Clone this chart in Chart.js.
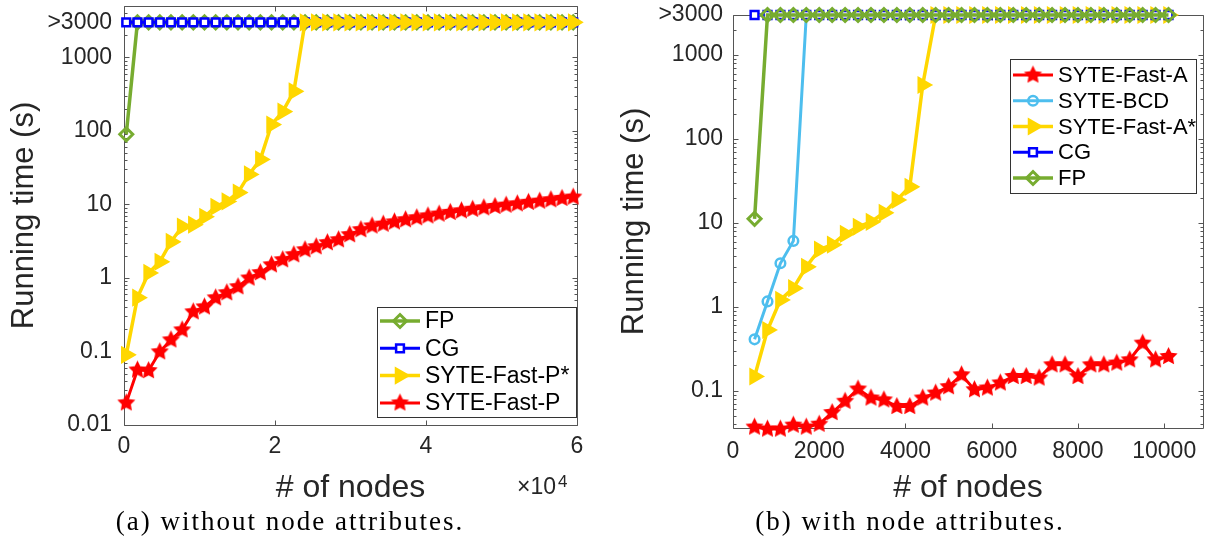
<!DOCTYPE html>
<html>
<head>
<meta charset="utf-8">
<title>Running time vs. number of nodes</title>
<script src="https://cdn.jsdelivr.net/npm/chart.js@4.4.0/dist/chart.umd.min.js"></script>
<style>
  body { margin: 0; background: #fff; width: 1205px; height: 550px; overflow: hidden; position: relative; }
  .panel { position: absolute; top: 0; height: 507px; }
  #panelA { left: 0; width: 600px; }
  #panelB { left: 600px; width: 605px; }
  .caption {
    position: absolute; top: 506px; transform: translateX(-50%);
    font-family: 'Liberation Serif', 'Times New Roman', serif; font-size: 27px;
    letter-spacing: 2px; color: #000; white-space: nowrap;
  }
</style>
</head>
<body>
<div class="panel" id="panelA"><canvas id="chartA"></canvas></div>
<div class="panel" id="panelB"><canvas id="chartB"></canvas></div>
<div class="caption" style="left:290px">(a) without node attributes.</div>
<div class="caption" style="left:910px">(b) with node attributes.</div>

<script>
// ---- (a) graphs without node attributes ----
const nodesA = [300, 1780, 3260, 4740, 6220, 7700, 9180, 10660, 12140, 13620, 15100, 16580, 18060, 19540,
  21020, 22500, 23980, 25460, 26940, 28420, 29900, 31380, 32860, 34340, 35820, 37300, 38780, 40260,
  41740, 43220, 44700, 46180, 47660, 49140, 50620, 52100, 53580, 55060, 56540, 58020, 59500];
// 3000 = did not finish within the time limit (">3000")
const fpA = [90, 3000, 3000, 3000, 3000, 3000, 3000, 3000, 3000, 3000, 3000, 3000, 3000, 3000, 3000, 3000,
  3000, 3000, 3000, 3000, 3000, 3000, 3000, 3000, 3000, 3000, 3000, 3000, 3000, 3000, 3000, 3000, 3000,
  3000, 3000, 3000, 3000, 3000, 3000, 3000, 3000];
const cgA = [3000, 3000, 3000, 3000, 3000, 3000, 3000, 3000, 3000, 3000, 3000, 3000, 3000, 3000, 3000, 3000,
  3000, 3000, 3000, 3000, 3000, 3000, 3000, 3000, 3000, 3000, 3000, 3000, 3000, 3000, 3000, 3000, 3000,
  3000, 3000, 3000, 3000, 3000, 3000, 3000, 3000];
const fastPStarA = [0.09, 0.54, 1.17, 1.66, 3.1, 5.0, 5.3, 6.8, 9.3, 11, 14.5, 25.6, 41, 122, 183, 345,
  3000, 3000, 3000, 3000, 3000, 3000, 3000, 3000, 3000, 3000, 3000, 3000, 3000, 3000, 3000, 3000, 3000,
  3000, 3000, 3000, 3000, 3000, 3000, 3000, 3000];
const fastPA = [0.02, 0.056, 0.055, 0.099, 0.144, 0.197, 0.347, 0.405, 0.537, 0.63, 0.76, 1.0, 1.18, 1.51,
  1.77, 2.07, 2.42, 2.66, 3.02, 3.31, 3.88, 4.54, 5.1, 5.4, 5.8, 6.2, 6.6, 7.0, 7.4, 7.8, 8.2, 8.6, 9.0,
  9.4, 9.8, 10.2, 10.7, 11.1, 11.6, 12.1, 12.6];
const xTicksA = [0, 20000, 40000, 60000];
const yTicksA = [0.01, 0.1, 1, 10, 100, 1000, 3000];

// ---- (b) graphs with node attributes ----
const nodesB = [500, 800, 1100, 1400, 1700, 2000, 2300, 2600, 2900, 3200, 3500, 3800, 4100, 4400, 4700,
  5000, 5300, 5600, 5900, 6200, 6500, 6800, 7100, 7400, 7700, 8000, 8300, 8600, 8900, 9200, 9500, 9800, 10100];
const fastAB = [0.037, 0.035, 0.035, 0.039, 0.037, 0.040, 0.055, 0.075, 0.105, 0.082, 0.078, 0.065, 0.065,
  0.082, 0.094, 0.112, 0.155, 0.103, 0.108, 0.124, 0.148, 0.148, 0.142, 0.204, 0.204, 0.148, 0.204, 0.204,
  0.214, 0.234, 0.37, 0.234, 0.256];
const bcdB = [0.41, 1.16, 3.3, 6.1, 3000, 3000, 3000, 3000, 3000, 3000, 3000, 3000, 3000, 3000, 3000, 3000,
  3000, 3000, 3000, 3000, 3000, 3000, 3000, 3000, 3000, 3000, 3000, 3000, 3000, 3000, 3000, 3000, 3000];
const fastAStarB = [0.148, 0.53, 1.21, 1.67, 3.0, 4.8, 5.5, 7.4, 9.0, 10.3, 13.2, 18.8, 26.9, 440, 3000,
  3000, 3000, 3000, 3000, 3000, 3000, 3000, 3000, 3000, 3000, 3000, 3000, 3000, 3000, 3000, 3000, 3000, 3000];
const cgB = [3000, 3000, 3000, 3000, 3000, 3000, 3000, 3000, 3000, 3000, 3000, 3000, 3000, 3000, 3000, 3000,
  3000, 3000, 3000, 3000, 3000, 3000, 3000, 3000, 3000, 3000, 3000, 3000, 3000, 3000, 3000, 3000, 3000];
const fpB = [11.2, 3000, 3000, 3000, 3000, 3000, 3000, 3000, 3000, 3000, 3000, 3000, 3000, 3000, 3000, 3000,
  3000, 3000, 3000, 3000, 3000, 3000, 3000, 3000, 3000, 3000, 3000, 3000, 3000, 3000, 3000, 3000, 3000];
const xTicksB = [0, 2000, 4000, 6000, 8000, 10000];
const yTicksB = [0.1, 1, 10, 100, 1000, 3000];

const FONT = "'Liberation Sans', Arial, Helvetica, sans-serif";
const AXIS = '#555';
const TEXT = '#262626';
const GREEN = '#77AC30', BLUE = '#0000FF', GOLD = '#FFD700', RED = '#FF0000', SKY = '#4DBEEE';

Chart.defaults.font.family = FONT;
Chart.defaults.color = TEXT;

// filled five-point star used as the marker for the fast variants
function makeStar(r, color) {
  const c = document.createElement('canvas');
  c.width = c.height = Math.ceil(r * 2 + 2);
  const g = c.getContext('2d');
  const m = c.width / 2;
  g.beginPath();
  for (let k = 0; k < 10; k++) {
    const rr = k % 2 ? r * 0.5 : r;
    const a = -Math.PI / 2 + k * Math.PI / 5;
    g.lineTo(m + rr * Math.cos(a), m + rr * Math.sin(a));
  }
  g.closePath();
  g.fillStyle = color;
  g.fill();
  return c;
}
const starImg = makeStar(9.5, RED);

const styles = {
  fp:   { borderColor: GREEN, borderWidth: 3.5, pointStyle: 'rectRot', pointRadius: 6.5, pointBorderWidth: 3,
          pointBorderColor: GREEN, pointBackgroundColor: 'rgba(255,255,255,0)' },
  cg:   { borderColor: BLUE, borderWidth: 3, pointStyle: 'rect', pointRadius: 5.5, pointBorderWidth: 2.5,
          pointBorderColor: BLUE, pointBackgroundColor: '#fff' },
  star: { borderColor: GOLD, borderWidth: 3.5, pointStyle: 'triangle', pointRotation: 90, pointRadius: 8.5,
          pointBorderWidth: 2, pointBorderColor: GOLD, pointBackgroundColor: GOLD },
  fast: { borderColor: RED, borderWidth: 3, pointStyle: starImg, pointRadius: 9, pointBorderWidth: 0,
          pointBorderColor: RED, pointBackgroundColor: RED },
  bcd:  { borderColor: SKY, borderWidth: 3, pointStyle: 'circle', pointRadius: 4.8, pointBorderWidth: 2.5,
          pointBorderColor: SKY, pointBackgroundColor: 'rgba(255,255,255,0)' }
};

function series(label, xs, ys, style) {
  return Object.assign({
    label: label,
    data: xs.map((x, i) => ({ x: x, y: ys[i] })),
    fill: false,
    tension: 0,
    clip: false
  }, style);
}

// axes box with inward ticks on all four sides, log minor ticks on y
const frame = {
  id: 'frame',
  beforeDatasetsDraw(chart) {
    const { ctx, chartArea: a, scales: { x, y } } = chart;
    const L = Math.round(a.left) + 0.5, R = Math.round(a.right) + 0.5;
    const T = Math.round(a.top) + 0.5, B = Math.round(a.bottom) + 0.5;
    ctx.save();
    ctx.strokeStyle = AXIS;
    ctx.lineWidth = 1;
    ctx.beginPath();
    ctx.rect(L, T, R - L, B - T);
    x.ticks.forEach(t => {
      const px = Math.round(x.getPixelForValue(t.value)) + 0.5;
      ctx.moveTo(px, B); ctx.lineTo(px, B - 5);
      ctx.moveTo(px, T); ctx.lineTo(px, T + 5);
    });
    const yTick = (v, len) => {
      const py = Math.round(y.getPixelForValue(v)) + 0.5;
      ctx.moveTo(L, py); ctx.lineTo(L + len, py);
      ctx.moveTo(R, py); ctx.lineTo(R - len, py);
    };
    y.ticks.forEach(t => yTick(t.value, 5));
    const majors = y.ticks.map(t => t.value);
    for (let e = Math.floor(Math.log10(y.min)); e <= Math.ceil(Math.log10(y.max)); e++) {
      for (let m = 2; m <= 9; m++) {
        const v = m * Math.pow(10, e);
        if (v >= y.min && v <= y.max && majors.indexOf(v) < 0) yTick(v, 3);
      }
    }
    ctx.stroke();
    ctx.restore();
  }
};

// boxed legend inside the plot, drawn from the dataset styles
const boxLegend = {
  id: 'boxLegend',
  afterDatasetsDraw(chart, args, o) {
    const ctx = chart.ctx;
    const sets = chart.data.datasets;
    ctx.save();
    ctx.fillStyle = '#fff';
    ctx.fillRect(o.x, o.y, o.w, o.h);
    ctx.strokeStyle = '#333';
    ctx.lineWidth = 1;
    ctx.strokeRect(o.x + 0.5, o.y + 0.5, o.w, o.h);
    ctx.font = o.fontSize + 'px ' + FONT;
    ctx.textBaseline = 'middle';
    ctx.textAlign = 'left';
    o.order.forEach((di, row) => {
      const ds = sets[di];
      const cy = o.y + o.firstRow + row * o.rowH;
      ctx.strokeStyle = ds.borderColor;
      ctx.lineWidth = ds.borderWidth;
      ctx.beginPath();
      ctx.moveTo(o.x + 3, cy);
      ctx.lineTo(o.x + 43, cy);
      ctx.stroke();
      ctx.fillStyle = ds.pointBackgroundColor;
      ctx.strokeStyle = ds.pointBorderColor;
      ctx.lineWidth = ds.pointBorderWidth;
      Chart.helpers.drawPoint(ctx, {
        pointStyle: ds.pointStyle, radius: ds.pointRadius,
        rotation: ds.pointRotation || 0, borderWidth: ds.pointBorderWidth
      }, o.x + 23, cy);
      ctx.fillStyle = '#000';
      ctx.fillText(ds.label, o.x + 48, cy + 1);
    });
    ctx.restore();
  }
};

// "x10^4" multiplier under the right end of the x axis
const xPower = {
  id: 'xPower',
  afterDraw(chart) {
    const { ctx, chartArea: a } = chart;
    ctx.save();
    ctx.fillStyle = TEXT;
    ctx.textBaseline = 'alphabetic';
    ctx.textAlign = 'left';
    ctx.font = '23px ' + FONT;
    const x0 = a.right - 60;
    ctx.fillText('\u00d710', x0, 494);
    const w = ctx.measureText('\u00d710').width;
    ctx.font = '17px ' + FONT;
    ctx.fillText('4', x0 + w + 2, 487);
    ctx.restore();
  }
};

function makeOptions(p) {
  return {
    responsive: true,
    maintainAspectRatio: false,
    animation: false,
    events: [],
    layout: { autoPadding: false, padding: p.padding },
    plugins: {
      legend: { display: false },
      tooltip: { enabled: false },
      boxLegend: p.legend
    },
    scales: {
      x: {
        type: 'linear', min: p.xMin, max: p.xMax, bounds: 'data',
        afterBuildTicks: s => { s.ticks = p.xTicks.map(v => ({ value: v })); },
        afterFit: s => { s.height = p.xHeight; s.paddingLeft = 0; s.paddingRight = 0; },
        grid: { display: false, drawTicks: false },
        border: { display: false },
        ticks: { callback: p.xLabel, font: { size: 23 }, color: TEXT, padding: p.xPad,
                 maxRotation: 0, autoSkip: false },
        title: { display: true, text: '# of nodes', font: { size: 32 }, color: TEXT,
                 padding: { top: 0, bottom: 0 } }
      },
      y: {
        type: 'logarithmic', min: p.yMin, max: p.yMax, bounds: 'data',
        afterBuildTicks: s => { s.ticks = p.yTicks.map(v => ({ value: v })); },
        afterFit: s => { s.width = p.yWidth; s.paddingTop = 0; s.paddingBottom = 0; },
        grid: { display: false, drawTicks: false },
        border: { display: false },
        ticks: { callback: v => (v === 3000 ? '>3000' : String(v)), font: { size: 23 }, color: TEXT,
                 padding: p.yPad, autoSkip: false },
        title: { display: true, text: 'Running time (s)', font: { size: 31 }, color: TEXT,
                 padding: { top: p.yTitlePad, bottom: 0 } }
      }
    }
  };
}

// dataset 0 is painted last, so the list runs from topmost to bottommost
new Chart(document.getElementById('chartA'), {
  type: 'line',
  data: {
    datasets: [
      series('SYTE-Fast-P', nodesA, fastPA, styles.fast),
      series('SYTE-Fast-P*', nodesA, fastPStarA, styles.star),
      series('CG', nodesA, cgA, styles.cg),
      series('FP', nodesA, fpA, styles.fp)
    ]
  },
  options: makeOptions({
    padding: { top: 6, right: 23, bottom: 0, left: 0 },
    xMin: 0, xMax: 60000, xTicks: xTicksA, xLabel: v => String(v / 10000), xHeight: 82, xPad: 8,
    yMin: 0.01, yMax: 5000, yTicks: yTicksA, yWidth: 124, yPad: 12, yTitlePad: 6,
    legend: { x: 377, y: 307, w: 199, h: 110, firstRow: 14, rowH: 27.3, fontSize: 23, order: [3, 2, 1, 0] }
  }),
  plugins: [frame, boxLegend, xPower]
});

new Chart(document.getElementById('chartB'), {
  type: 'line',
  data: {
    datasets: [
      series('FP', nodesB, fpB, styles.fp),
      series('CG', nodesB, cgB, styles.cg),
      series('SYTE-Fast-A*', nodesB, fastAStarB, styles.star),
      series('SYTE-BCD', nodesB, bcdB, styles.bcd),
      series('SYTE-Fast-A', nodesB, fastAB, styles.fast)
    ]
  },
  options: makeOptions({
    padding: { top: 15, right: 2, bottom: 0, left: 0 },
    xMin: 0, xMax: 10900, xTicks: xTicksB, xLabel: v => String(v), xHeight: 79, xPad: 10,
    yMin: 0.036, yMax: 3000, yTicks: yTicksB, yWidth: 133, yPad: 10, yTitlePad: 16,
    legend: { x: 410, y: 59, w: 186, h: 134, firstRow: 16, rowH: 25.75, fontSize: 22, order: [4, 3, 2, 1, 0] }
  }),
  plugins: [frame, boxLegend]
});
</script>
</body>
</html>
